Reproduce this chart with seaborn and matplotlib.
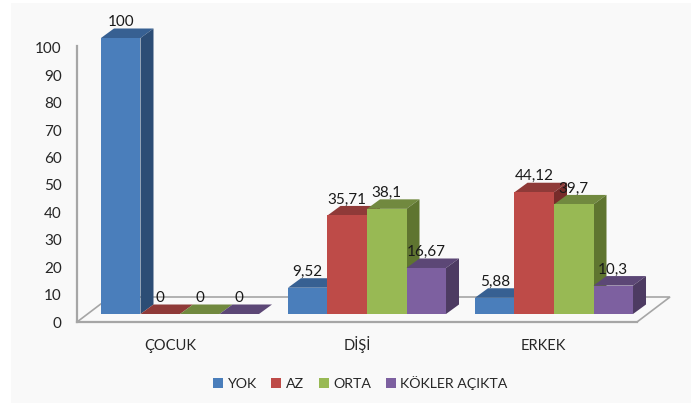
import pandas as pd
import seaborn as sns
import matplotlib.pyplot as plt
from matplotlib.patches import Polygon, Rectangle
from matplotlib.transforms import IdentityTransform

categories = ['ÇOCUK', 'DİŞİ', 'ERKEK']
series = ['YOK', 'AZ', 'ORTA', 'KÖKLER AÇIKTA']
yok = [100, 9.52, 5.88]
az = [0, 35.71, 44.12]
orta = [0, 38.1, 39.7]
kokler = [0, 16.67, 10.3]
y_ticks = [0, 10, 20, 30, 40, 50, 60, 70, 80, 90, 100]

front_colors = ['#4a7ebb', '#be4b48', '#98b954', '#7d60a0']
top_colors = ['#376092', '#8f3a38', '#71893f', '#5c4776']
side_colors = ['#2c4d75', '#772c2a', '#5f7530', '#4d3b62']

W, H = 691, 405
DX, DY = 13, 9.5  # bar depth in pixels
text_color = '#262626'

sns.set_theme(style='white')
plt.rcParams['font.family'] = ['Lato', 'DejaVu Sans']

data = pd.DataFrame({
    'kategori': categories * 4,
    'seri': [s for s in series for _ in categories],
    'deger': yok + az + orta + kokler,
})

fig = plt.figure(figsize=(W / 100, H / 100), dpi=100, facecolor='white')
fig.add_artist(Rectangle((11 / W, 0.005), 1, 400 / H, transform=fig.transFigure,
                         facecolor='#f9f9f9', edgecolor='none'))

# frame axes: wall line, floor and tick labels
frame = fig.add_axes([77 / W, (H - 322) / H, 560 / W, 276 / H], facecolor='none', zorder=1)
frame.set_xlim(-0.5, 2.5)
frame.set_ylim(0, 100.7)
frame.set_xticks(range(3), categories)
frame.set_yticks(y_ticks)
frame.tick_params(axis='y', length=0, pad=11, labelsize=11, colors=text_color)
frame.tick_params(axis='x', length=0, pad=20, labelsize=10.5, colors=text_color)
for tick in frame.get_xticklabels():
    tick.set_va('baseline')
sns.despine(ax=frame)
for side in ['left', 'bottom']:
    frame.spines[side].set_color('#a6a6a6')
    frame.spines[side].set_linewidth(1.6)

x0, y0 = frame.transAxes.transform((0, 0))
x1, _ = frame.transAxes.transform((1, 0))
floor = [(x0, y0), (x0 + 33, y0 + 25), (x1 + 33, y0 + 25), (x1, y0)]
frame.add_patch(Polygon(floor, closed=True, fill=False, edgecolor='#a6a6a6', linewidth=1.2,
                        transform=IdentityTransform(), clip_on=False))

# bars axes
ax = fig.add_axes([77 / W, (H - 314) / H, 560 / W, 276 / H], facecolor='none', zorder=2)
sns.barplot(data=data, x='kategori', y='deger', hue='seri', order=categories, hue_order=series,
            palette=front_colors, saturation=1, width=0.845, gap=0, linewidth=0, ax=ax)
ax.set_xlim((77 - 180) / 187, (637 - 180) / 187)
ax.set_ylim(0, 100)
ax.axis('off')

bars = []
for i, container in enumerate(ax.containers):
    for bar in container:
        bars.append((bar.get_x(), i, bar))
bars.sort(key=lambda b: b[0])

for order, (_, i, bar) in enumerate(bars):
    x, h, w = bar.get_x(), bar.get_height(), bar.get_width()
    (px0, py0), (px1, py1) = ax.transData.transform([(x, 0), (x + w, h)])
    z = 3 + order
    bar.set_zorder(z + 0.5)
    bar.set_clip_on(False)
    top = [(px0, py1), (px0 + DX, py1 + DY), (px1 + DX, py1 + DY), (px1, py1)]
    right = [(px1, py0), (px1 + DX, py0 + DY), (px1 + DX, py1 + DY), (px1, py1)]
    ax.add_patch(Polygon(top, closed=True, facecolor=top_colors[i], edgecolor='none',
                         transform=IdentityTransform(), clip_on=False, zorder=z))
    ax.add_patch(Polygon(right, closed=True, facecolor=side_colors[i], edgecolor='none',
                         transform=IdentityTransform(), clip_on=False, zorder=z))
    label = f'{h:g}'.replace('.', ',')
    ax.annotate(label, (x + w / 2, h), xytext=(0, 16), textcoords='offset pixels',
                ha='center', va='center', fontsize=11, color='#1a1a1a', zorder=50,
                annotation_clip=False)

sns.move_legend(ax, 'center', bbox_to_anchor=(360.5 / W, (H - 383) / H),
                bbox_transform=fig.transFigure, ncol=4, frameon=False, title=None,
                fontsize=10.2, labelcolor=text_color, handlelength=0.7, handleheight=0.7,
                handletextpad=0.35, columnspacing=1.0, borderpad=0, labelspacing=0)

fig.savefig('out.png', dpi=100)
